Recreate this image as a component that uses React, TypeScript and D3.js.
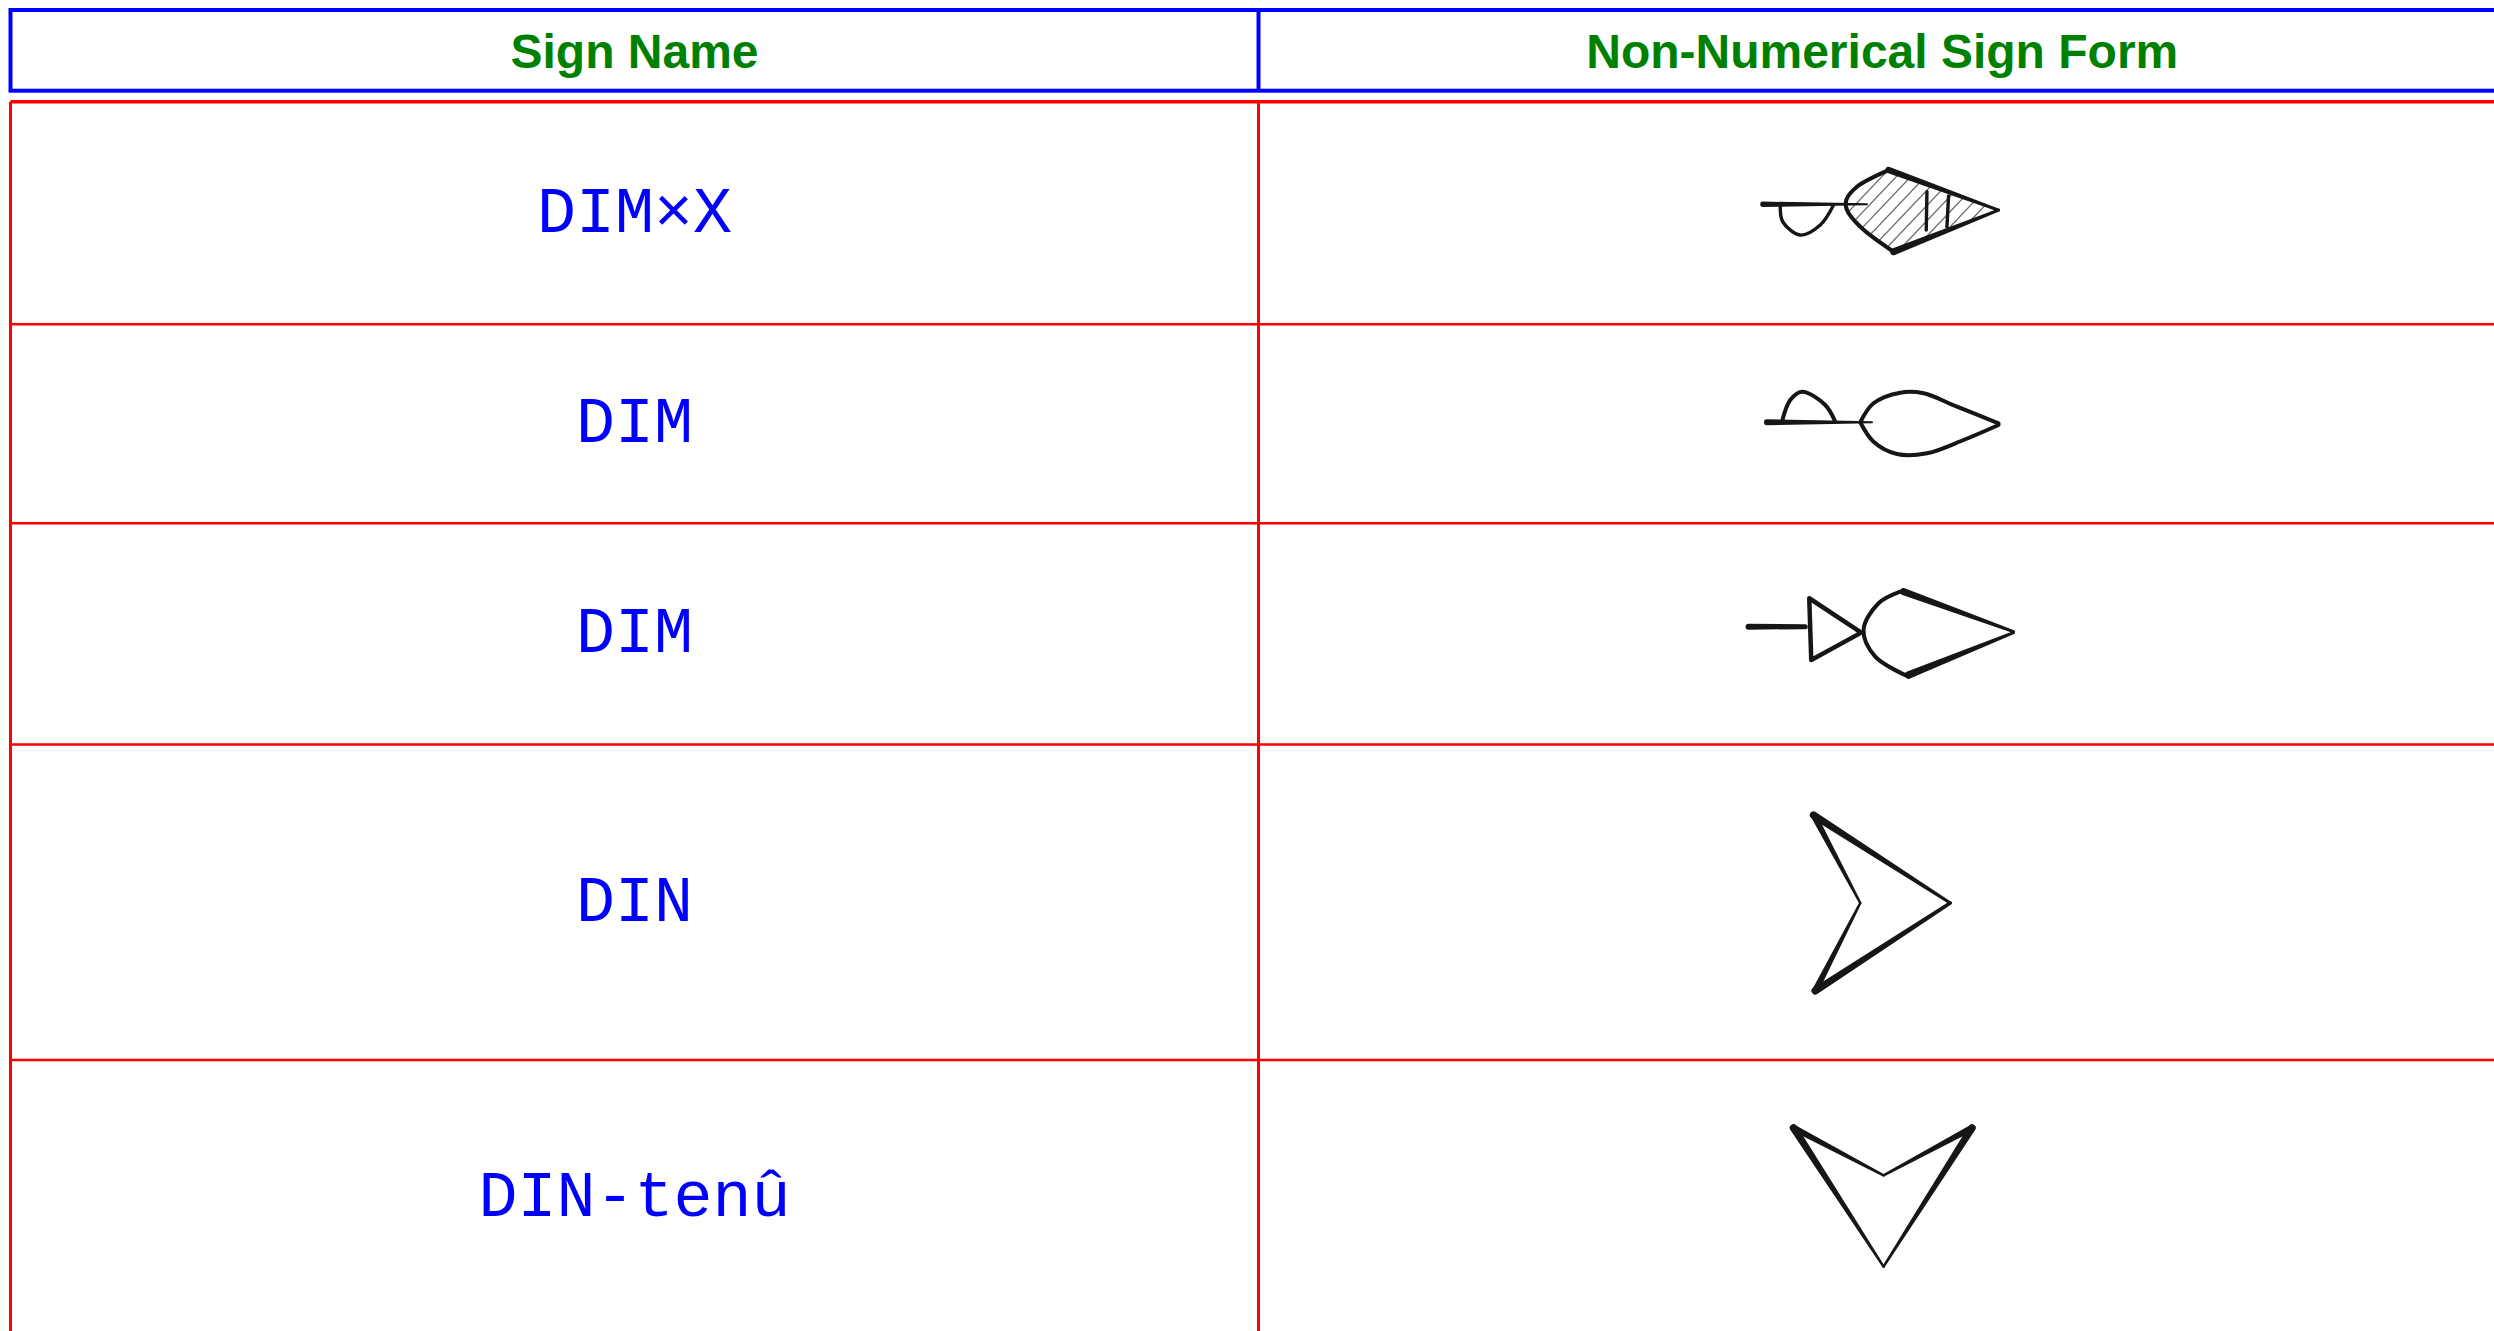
import React from "react";
import * as d3 from "d3";

type Pt = [number, number];
type Stroke = { pts: Pt[]; w: [number, number]; curve?: boolean; closed?: boolean };

// table content
const headers = ["Sign Name", "Non-Numerical Sign Form"];
const signNames = ["DIM×X", "DIM", "DIM", "DIN", "DIN-tenû"];

// hand drawn forms, points measured from the centre of the form cell
const dimxStrokes: Stroke[] = [
  { pts: [[-119.3, -8.7], [-15.3, -8.7]], w: [5.5, 2] },
  { pts: [[-102, -6.3], [-99.5, 8.7], [-82, 22], [-62, 12], [-48.7, -8]], w: [3.4, 3.4], curve: true },
  { pts: [[6.3, -43], [-25.3, -26.3], [-36, -13], [-35.3, -3], [-22, 13.7], [11.3, 38.7]], w: [4, 4], curve: true },
  { pts: [[6.3, -43], [116.3, -3]], w: [6.5, 3] },
  { pts: [[11.3, 38.7], [116.3, -3]], w: [7, 3] },
  { pts: [[44.7, -21.3], [44, 17]], w: [3.4, 3.4] },
  { pts: [[66.3, -17], [64.7, 13.7]], w: [3.4, 3.4] },
];
const dimxHatch: Pt[] = [[6.3, -43], [-25.3, -26.3], [-36, -13], [-35.3, -3], [-22, 13.7], [11.3, 38.7], [116.3, -3]];

const dimStrokes: Stroke[] = [
  { pts: [[-115.3, -1.5], [-10.3, -1.5]], w: [6, 2] },
  { pts: [[-100.3, -2.1], [-92, -23.8], [-80.3, -32.1], [-57, -18.8], [-47, -2.1]], w: [4, 4], curve: true },
  { pts: [[-22, -1.5], [-8.7, -20.5], [18, -31.1], [41.3, -30.5], [74.7, -17.1], [116.3, -0.5]], w: [4, 4], curve: true },
  { pts: [[-22, -1.5], [-8.7, 17.9], [14.7, 30.2], [44.7, 29.5], [81.3, 16.2], [116.3, 1.2]], w: [4, 4], curve: true },
];

const dimTriStrokes: Stroke[] = [
  { pts: [[-133.7, -7.2], [-77, -7.2]], w: [6, 5] },
  { pts: [[-73, -35.6], [-71, 26.1], [-21, -1.2]], w: [4.5, 4.5], closed: true },
  { pts: [[18, -42.2], [-3.7, -30.6], [-18.7, -3.9], [-7, 22.8], [26.3, 42.8]], w: [4, 4], curve: true },
  { pts: [[21.3, -42.2], [131.3, -2.2]], w: [7, 3] },
  { pts: [[26.3, 41.1], [131.3, -1.2]], w: [7.5, 3] },
];

const dinStrokes: Stroke[] = [
  { pts: [[-68.7, -87.1], [68, 0.8]], w: [7.5, 3] },
  { pts: [[-67, 88.6], [68, 0.8]], w: [7.5, 3.5] },
  { pts: [[-68.7, -87.1], [-22, 0.8]], w: [6.5, 2.5] },
  { pts: [[-22, 0.8], [-67, 88.6]], w: [2.5, 6.5] },
];

const dinTenuStrokes: Stroke[] = [
  { pts: [[-88.7, -69.1], [1.3, -21.7]], w: [6.5, 2.5] },
  { pts: [[1.3, -21.7], [89.7, -69.1]], w: [2.5, 6.5] },
  { pts: [[-88.7, -69.1], [1.3, 69.6]], w: [7.5, 2.5] },
  { pts: [[89.7, -69.1], [1.3, 69.6]], w: [7.5, 2.5] },
];

const signForms = [dimxStrokes, dimStrokes, dimTriStrokes, dinStrokes, dinTenuStrokes];

// layout
const W = 2494;
const H = 1331;
const colEdges = [10.5, 1258.5, 2506];
const headTop = 10;
const headBottom = 90.7;
const rowEdges = [101.8, 324.3, 523.3, 744.4, 1060, 1334];

const ink = "#161616";

function taper(p0: Pt, p1: Pt, w0: number, w1: number) {
  const dx = p1[0] - p0[0];
  const dy = p1[1] - p0[1];
  const len = Math.hypot(dx, dy) || 1;
  const nx = -dy / len;
  const ny = dx / len;
  const p = d3.path();
  p.moveTo(p0[0] + nx * w0 / 2, p0[1] + ny * w0 / 2);
  p.lineTo(p1[0] + nx * w1 / 2, p1[1] + ny * w1 / 2);
  p.arc(p1[0], p1[1], w1 / 2, Math.atan2(ny, nx), Math.atan2(-ny, -nx), true);
  p.lineTo(p0[0] - nx * w0 / 2, p0[1] - ny * w0 / 2);
  p.arc(p0[0], p0[1], w0 / 2, Math.atan2(-ny, -nx), Math.atan2(ny, nx), true);
  p.closePath();
  return p.toString();
}

const Sign = ({ strokes, cx, cy, idx }: { strokes: Stroke[]; cx: number; cy: number; idx: number }) => {
  const x = d3.scaleLinear().domain([0, 1]).range([cx, cx + 1]);
  const y = d3.scaleLinear().domain([0, 1]).range([cy, cy + 1]);
  const curved = d3.line<Pt>().x((d) => x(d[0])).y((d) => y(d[1])).curve(d3.curveCatmullRom.alpha(0.5));
  const straight = d3.line<Pt>().x((d) => x(d[0])).y((d) => y(d[1]));
  const closed = d3.line<Pt>().x((d) => x(d[0])).y((d) => y(d[1])).curve(d3.curveLinearClosed);
  const hatch = idx === 0;
  const ext = d3.extent(dimxHatch, (d) => d[0]) as [number, number];
  const hatchXs = d3.range(ext[0] - 90, ext[1] + 10, 14.5);
  return (
    <g>
      {hatch && (
        <>
          <defs>
            <clipPath id="hatch-clip">
              <path d={closed(dimxHatch) as string} />
            </clipPath>
          </defs>
          <g clipPath="url(#hatch-clip)" stroke="#6a6a6a" strokeWidth={1.3}>
            {hatchXs.map((hx, i) => (
              <line key={i} x1={x(hx)} y1={y(50)} x2={x(hx + 95)} y2={y(-50)} />
            ))}
          </g>
        </>
      )}
      {strokes.map((s, i) => {
        if (s.curve || s.closed || s.pts.length > 2 || s.w[0] === s.w[1]) {
          const gen = s.curve ? curved : s.closed ? closed : straight;
          return (
            <path key={i} d={gen(s.pts) as string} fill="none" stroke={ink} strokeWidth={s.w[0]}
              strokeLinecap="round" strokeLinejoin="round" />
          );
        }
        const p0: Pt = [x(s.pts[0][0]), y(s.pts[0][1])];
        const p1: Pt = [x(s.pts[1][0]), y(s.pts[1][1])];
        return <path key={i} d={taper(p0, p1, s.w[0], s.w[1])} fill={ink} />;
      })}
    </g>
  );
};

export default function App() {
  const colMid = (i: number) => (colEdges[i] + colEdges[i + 1]) / 2;
  const rowMid = (i: number) => (rowEdges[i] + rowEdges[i + 1]) / 2;
  return (
    <svg width={W} height={H} style={{ position: "absolute", left: 0, top: 0, display: "block", background: "#fff" }}>
      {/* header */}
      <rect x={colEdges[0]} y={headTop} width={colEdges[2] - colEdges[0]} height={headBottom - headTop}
        fill="none" stroke="#0000ff" strokeWidth={4} />
      <line x1={colEdges[1]} x2={colEdges[1]} y1={headTop} y2={headBottom} stroke="#0000ff" strokeWidth={4} />
      {headers.map((h, i) => (
        <text key={h} x={colMid(i)} y={68.3} textAnchor="middle" fill="#008000"
          fontFamily="Arial, 'Liberation Sans', sans-serif" fontWeight="bold" fontSize={48}>
          {h}
        </text>
      ))}

      {/* body */}
      {rowEdges.slice(1, -1).map((ry, i) => (
        <line key={i} x1={colEdges[0]} x2={colEdges[2]} y1={ry} y2={ry} stroke="#ff0000" strokeWidth={2.5} />
      ))}
      <line x1={colEdges[0]} x2={colEdges[2]} y1={rowEdges[0]} y2={rowEdges[0]} stroke="#ff0000" strokeWidth={3.6} />
      {colEdges.map((cx, i) => (
        <line key={i} x1={cx} x2={cx} y1={rowEdges[0]} y2={rowEdges[rowEdges.length - 1]} stroke="#ff0000" strokeWidth={3} />
      ))}

      {signNames.map((n, i) => (
        <text key={i} x={colMid(0)} y={rowMid(i) + 18.5} textAnchor="middle" fill="#0000ff"
          fontFamily="'Courier New', 'Liberation Mono', monospace" fontSize={65}>
          {n}
        </text>
      ))}

      {signForms.map((s, i) => (
        <Sign key={i} strokes={s} cx={colMid(1)} cy={rowMid(i)} idx={i} />
      ))}
    </svg>
  );
}
